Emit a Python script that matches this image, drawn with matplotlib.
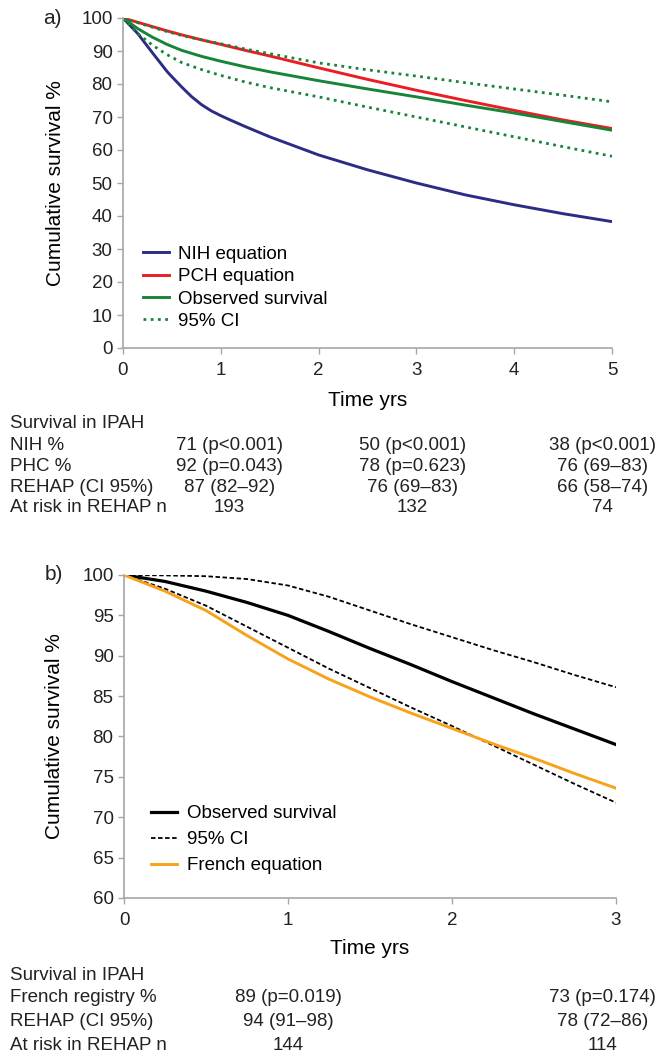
import matplotlib
matplotlib.use("Agg")
import matplotlib.pyplot as plt
from matplotlib.transforms import blended_transform_factory

plt.rcParams.update({
    "font.family": ["Liberation Sans", "DejaVu Sans"],
    "font.size": 13.5,
})

# ── Panel a data (IPAH, 5 years) ─────────────────────────────────────────────
t_a = [0, 0.15, 0.3, 0.45, 0.6, 0.8, 1, 1.25, 1.5, 2, 2.5, 3, 3.5, 4, 4.5, 5]
pch = [100, 98.7, 97.4, 96.1, 94.9, 93.4, 92.0, 90.2, 88.5, 84.9, 81.4, 78.1, 75, 72, 69.1, 66.5]
obs_a = [100, 96.8, 94.2, 92.0, 90.2, 88.4, 86.9, 85.2, 83.7, 81, 78.5, 76.1, 73.6, 71.2, 68.6, 66]
ci_hi_a = [100, 98.6, 97.2, 95.9, 94.7, 93.4, 92.2, 90.6, 89.2, 86.4, 84.3, 82.4, 80.4, 78.5, 76.6, 74.6]
ci_lo_a = [100, 95.3, 91.8, 88.9, 86.5, 84.4, 82.6, 80.6, 78.9, 76.1, 73, 70, 67, 64, 61, 58.1]

# NIH equation bends sharply in the first year, so it is read on a finer grid
t_nih = [0, 0.15, 0.3, 0.45, 0.5, 0.6, 0.7, 0.8, 0.9, 1, 1.1, 1.25, 1.5, 2, 2.5, 3, 3.5, 4, 4.5, 5]
nih = [100, 95.3, 89.5, 83.8, 82.2, 79.1, 76.2, 73.8, 71.9, 70.4, 69.05, 67.1, 64.0,
       58.5, 54, 50, 46.4, 43.4, 40.7, 38.3]

table_a_rows = ["Survival in IPAH", "NIH %", "PHC %", "REHAP (CI 95%)", "At risk in REHAP n"]
table_a_cols = [1.085, 2.96, 4.9]
table_a_vals = [
    ["", "", ""],
    ["71 (p<0.001)", "50 (p<0.001)", "38 (p<0.001)"],
    ["92 (p=0.043)", "78 (p=0.623)", "76 (69\u201383)"],
    ["87 (82\u201392)", "76 (69\u201383)", "66 (58\u201374)"],
    ["193", "132", "74"],
]

# ── Panel b data (3 years) ───────────────────────────────────────────────────
t_b = [0, 0.25, 0.5, 0.75, 1, 1.25, 1.5, 1.75, 2, 2.25, 2.5, 2.75, 3]
obs_b = [100, 99.2, 98.0, 96.6, 95.0, 93.0, 90.9, 88.9, 86.8, 84.8, 82.8, 80.9, 79.0]
ci_hi_b = [100, 99.95, 99.85, 99.5, 98.7, 97.3, 95.6, 93.9, 92.3, 90.7, 89.2, 87.6, 86.1]
ci_lo_b = [100, 98.3, 96.2, 93.6, 91.0, 88.4, 86.0, 83.6, 81.3, 78.9, 76.5, 74.1, 71.8]
french = [100, 98.0, 95.6, 92.5, 89.6, 87.1, 84.9, 82.9, 81.0, 79.1, 77.3, 75.4, 73.6]

table_b_rows = ["Survival in IPAH", "French registry %", "REHAP (CI 95%)", "At risk in REHAP n"]
table_b_cols = [1.0, 2.92]
table_b_vals = [
    ["", ""],
    ["89 (p=0.019)", "73 (p=0.174)"],
    ["94 (91\u201398)", "78 (72\u201386)"],
    ["144", "114"],
]

NAVY = "#2b2c83"
RED = "#ec1c24"
GREEN = "#17843a"
ORANGE = "#f7a21b"
SPINE = "#a6a6a6"
TEXT = "#222222"

W, H = 661, 1052
fig = plt.figure(figsize=(W / 100, H / 100), dpi=100)


def px_axes(left, right, top, bottom):
    return fig.add_axes([left / W, 1 - bottom / H, (right - left) / W, (bottom - top) / H])


def style_axes(ax):
    for s in ["top", "right"]:
        ax.spines[s].set_visible(False)
    for s in ["left", "bottom"]:
        ax.spines[s].set_color(SPINE)
        ax.spines[s].set_linewidth(1.2)
    ax.tick_params(axis="both", colors=SPINE, labelcolor=TEXT, labelsize=13.5,
                   length=4, width=1.0)
    ax.tick_params(axis="x", pad=6)


def draw_table(ax, rows, cols, vals, y_rows):
    tr = blended_transform_factory(ax.transData, fig.transFigure)
    for r, (label, y) in enumerate(zip(rows, y_rows)):
        fig.text(10 / W, 1 - y / H, label, ha="left", va="center", fontsize=13.5, color=TEXT)
        for c, x in enumerate(cols):
            if vals[r][c]:
                ax.text(x, 1 - y / H, vals[r][c], transform=tr, ha="center", va="center",
                        fontsize=13.5, color=TEXT)


# ── a) ───────────────────────────────────────────────────────────────────────
ax = px_axes(123, 612, 18, 348)
ax.plot(t_nih, nih, color=NAVY, lw=2.1, label="NIH equation")
ax.plot(t_a, pch, color=RED, lw=2.1, label="PCH equation")
ax.plot(t_a, obs_a, color=GREEN, lw=2.1, label="Observed survival")
ax.plot(t_a, ci_hi_a, color=GREEN, lw=2.0, ls=(0, (1, 1.6)), label="95% CI")
ax.plot(t_a, ci_lo_a, color=GREEN, lw=2.0, ls=(0, (1, 1.6)))
ax.set_xlim(0, 5)
ax.set_ylim(0, 100)
ax.set_xticks(range(0, 6))
ax.set_yticks(range(0, 101, 10))
style_axes(ax)
ax.set_ylabel("Cumulative survival %", fontsize=15, labelpad=12)
ax.set_xlabel("Time yrs", fontsize=15, labelpad=9)
ax.legend(loc="upper left", bbox_to_anchor=(0.04, 0.31), frameon=False, fontsize=13.5,
          handlelength=1.4, handletextpad=0.5, labelspacing=0.28, borderpad=0,
          borderaxespad=0)
fig.text(52 / W, 1 - 18 / H, "a)", ha="center", va="center", fontsize=15, color=TEXT)
draw_table(ax, table_a_rows, table_a_cols, table_a_vals, [424, 445, 466, 487, 508])

# ── b) ───────────────────────────────────────────────────────────────────────
bx = px_axes(124, 616, 575, 898)
bx.plot(t_b, obs_b, color="black", lw=2.3, label="Observed survival")
bx.plot(t_b, ci_hi_b, color="black", lw=1.3, ls=(0, (2.5, 1.4)), label="95% CI")
bx.plot(t_b, ci_lo_b, color="black", lw=1.3, ls=(0, (2.5, 1.4)))
bx.plot(t_b, french, color=ORANGE, lw=2.1, label="French equation")
bx.set_xlim(0, 3)
bx.set_ylim(60, 100)
bx.set_xticks(range(0, 4))
bx.set_yticks(range(60, 101, 5))
style_axes(bx)
bx.set_ylabel("Cumulative survival %", fontsize=15, labelpad=13)
bx.set_xlabel("Time yrs", fontsize=15, labelpad=7)
bx.legend(loc="upper left", bbox_to_anchor=(0.055, 0.288), frameon=False, fontsize=13.5,
          handlelength=1.4, handletextpad=0.5, labelspacing=0.48, borderpad=0,
          borderaxespad=0)
fig.text(54 / W, 1 - 575 / H, "b)", ha="center", va="center", fontsize=15, color=TEXT)
draw_table(bx, table_b_rows, table_b_cols, table_b_vals, [975, 998, 1022, 1045])

fig.savefig("out.png", dpi=100)
